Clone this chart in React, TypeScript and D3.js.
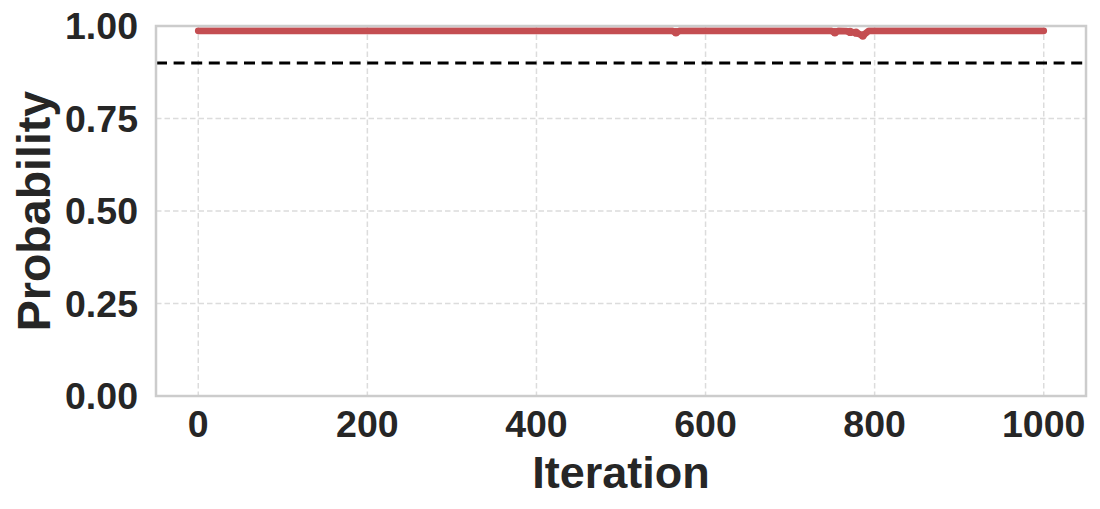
import React from "react";
import * as d3 from "d3";

const iterations = [0, 560, 565, 570, 748, 753, 758, 766, 771, 778, 786, 793, 1000];
const probabilities = [0.987, 0.987, 0.983, 0.987, 0.987, 0.983, 0.987, 0.986, 0.984, 0.982, 0.974, 0.987, 0.987];
const threshold = 0.9;
const xTicks = [0, 200, 400, 600, 800, 1000];
const yTicks = [0, 0.25, 0.5, 0.75, 1.0];
const xLabel = "Iteration";
const yLabel = "Probability";

const W = 1100;
const H = 509;
const left = 156;
const right = 1086;
const top = 26;
const bottom = 396;

export default function App() {
  const x = d3.scaleLinear().domain([-50, 1050]).range([left, right]);
  const y = d3.scaleLinear().domain([0, 1]).range([bottom, top]);
  const pts = iterations.map((it, i) => [it, probabilities[i]] as [number, number]);
  const line = d3
    .line<[number, number]>()
    .x((d) => x(d[0]))
    .y((d) => y(d[1]))
    .curve(d3.curveLinear);
  const dips = pts.filter((d) => d[1] < 0.985);
  const font = "'Liberation Sans', Arial, Helvetica, sans-serif";
  const textColor = "#262626";
  const gridColor = "#dcdcdc";
  const spineColor = "#cccccc";
  const red = "#c44e52";

  return (
    <div style={{ position: "fixed", left: 0, top: 0 }}>
      <svg width={W} height={H} style={{ display: "block", background: "#ffffff" }}>
        <defs>
          <clipPath id="plotclip">
            <rect x={left} y={top} width={right - left} height={bottom - top} />
          </clipPath>
        </defs>
        {xTicks.map((t) => (
          <line
            key={"gx" + t}
            x1={x(t)}
            x2={x(t)}
            y1={top}
            y2={bottom}
            stroke={gridColor}
            strokeWidth={1.5}
            strokeDasharray="5.5,3"
          />
        ))}
        {yTicks.map((t) => (
          <line
            key={"gy" + t}
            x1={left}
            x2={right}
            y1={y(t)}
            y2={y(t)}
            stroke={gridColor}
            strokeWidth={1.5}
            strokeDasharray="5.5,3"
          />
        ))}
        <g clipPath="url(#plotclip)">
          <path
            d={line(pts) || ""}
            fill="none"
            stroke={red}
            strokeWidth={6.8}
            strokeLinecap="round"
            strokeLinejoin="round"
          />
          {dips.map((d, i) => (
            <circle key={"dip" + i} cx={x(d[0])} cy={y(d[1])} r={4.2} fill={red} />
          ))}
          <line
            x1={left}
            x2={right}
            y1={y(threshold)}
            y2={y(threshold)}
            stroke="#000000"
            strokeWidth={3}
            strokeDasharray="11,6.6"
          />
        </g>
        <rect
          x={left}
          y={top}
          width={right - left}
          height={bottom - top}
          fill="none"
          stroke={spineColor}
          strokeWidth={2.5}
        />
        {xTicks.map((t) => (
          <text
            key={"tx" + t}
            x={x(t)}
            y={437}
            textAnchor="middle"
            fontFamily={font}
            fontWeight="bold"
            fontSize={37.5}
            fill={textColor}
          >
            {String(t)}
          </text>
        ))}
        {yTicks.map((t) => (
          <text
            key={"ty" + t}
            x={138}
            y={y(t) + 13}
            textAnchor="end"
            fontFamily={font}
            fontWeight="bold"
            fontSize={37.5}
            fill={textColor}
          >
            {t.toFixed(2)}
          </text>
        ))}
        <text
          x={(left + right) / 2}
          y={488}
          textAnchor="middle"
          fontFamily={font}
          fontWeight="bold"
          fontSize={45}
          fill={textColor}
        >
          {xLabel}
        </text>
        <text
          transform={`translate(50, ${(top + bottom) / 2}) rotate(-90)`}
          textAnchor="middle"
          fontFamily={font}
          fontWeight="bold"
          fontSize={46.5}
          fill={textColor}
        >
          {yLabel}
        </text>
      </svg>
    </div>
  );
}
